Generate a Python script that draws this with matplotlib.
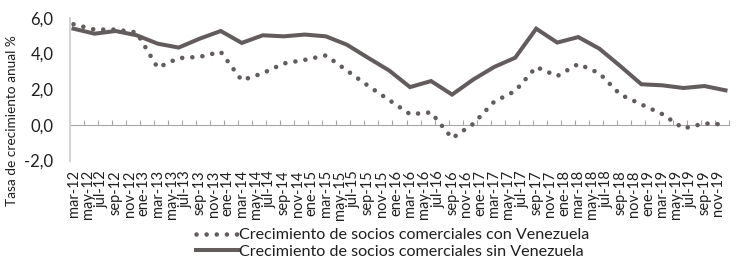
import matplotlib
matplotlib.use('Agg')
import matplotlib.pyplot as plt
import numpy as np

# meses abreviados (en espanol)
meses = ['ene', 'feb', 'mar', 'abr', 'may', 'jun', 'jul', 'ago', 'sep', 'oct', 'nov', 'dic']

# eje de categorias: mensual de mar-12 a dic-19, etiqueta cada 2 meses
cat_labels = [f'{meses[(m + 2) % 12]}-{12 + (m + 2) // 12}' for m in range(94)]
tick_labels = cat_labels[::2]

# observaciones trimestrales (mar, jun, sep, dic) 2012-2019
obs_periods = [f'{m}-{a}' for a in range(12, 20) for m in ['mar', 'jun', 'sep', 'dic']]

con_venezuela = [5.65, 5.35, 5.35, 5.19, 3.21, 3.75, 3.82, 4.10,
                 2.50, 2.90, 3.45, 3.65, 3.90, 3.05, 2.20, 1.40,
                 0.60, 0.70, -0.75, 0.05, 1.30, 1.90, 3.25, 2.74,
                 3.42, 2.90, 1.70, 1.15, 0.60, -0.20, 0.08, 0.02]
sin_venezuela = [5.40, 5.12, 5.27, 5.03, 4.56, 4.34, 4.84, 5.27,
                 4.60, 5.03, 4.97, 5.07, 4.97, 4.50, 3.77, 3.06,
                 2.12, 2.46, 1.70, 2.54, 3.25, 3.77, 5.40, 4.62,
                 4.93, 4.28, 3.30, 2.28, 2.22, 2.07, 2.18, 1.94]

serie_con = 'Crecimiento de socios comerciales con Venezuela'
serie_sin = 'Crecimiento de socios comerciales sin Venezuela'

FONT = 'Lato'
color_linea = '#625c5c'
color_texto = '#1f1f1f'

# posicion de cada observacion en el eje mensual
x_obs = np.array([cat_labels.index(p) for p in obs_periods])

fig = plt.figure(figsize=(7.41, 2.80), dpi=100)
ax = fig.add_axes([70 / 741, 1 - 160.5 / 280, 659 / 741, 142.5 / 280])

ax.plot(x_obs, con_venezuela, color=color_linea, lw=3.3,
        linestyle=(0, (0.01, 2.2)), dash_capstyle='round',
        label=serie_con)
ax.plot(x_obs, sin_venezuela, color=color_linea, lw=2.9,
        solid_joinstyle='miter', label=serie_sin)

ax.set_xlim(-0.5, len(cat_labels) - 0.5)
ax.set_ylim(-2, 6)

# etiquetas de categoria
ax.set_xticks(np.arange(0, len(cat_labels), 2))
ax.set_xticklabels(tick_labels, rotation=90, fontsize=10.5, family=FONT)
ax.tick_params(axis='x', length=0, pad=7, colors=color_texto)

ax.set_yticks(np.arange(-2, 7, 2))
ax.set_yticklabels([f'{v:.1f}'.replace('.', ',') for v in np.arange(-2, 7, 2)],
                   fontsize=12, family=FONT)
ax.tick_params(axis='y', length=0, pad=12, colors=color_texto)

for s in ['top', 'right', 'bottom']:
    ax.spines[s].set_visible(False)
ax.spines['left'].set_color('#d4d4d4')
ax.spines['left'].set_linewidth(1.5)

# linea del cero con marcas hacia adentro
sec = ax.secondary_xaxis(0.25)
sec.set_xticks(np.arange(-0.5, len(cat_labels), 2))
sec.set_xticklabels([])
sec.tick_params(axis='x', direction='in', length=3.5, width=0.8, color='#a6a6a6')
sec.spines['bottom'].set_color('#a6a6a6')
sec.spines['bottom'].set_linewidth(0.8)

fig.text(12 / 741, 1 - 121 / 280, 'Tasa de crecimiento anual %', rotation=90,
         ha='center', va='center', fontsize=9.8, family=FONT, color=color_texto)

fig.legend(loc='center', bbox_to_anchor=(0.53, 0.13), frameon=False,
           prop={'family': FONT, 'size': 11.6}, handlelength=2.6,
           handletextpad=0.1, labelspacing=0.15, borderaxespad=0)
for t in fig.legends[0].get_texts():
    t.set_color(color_texto)

fig.savefig('out.png', dpi=100)
